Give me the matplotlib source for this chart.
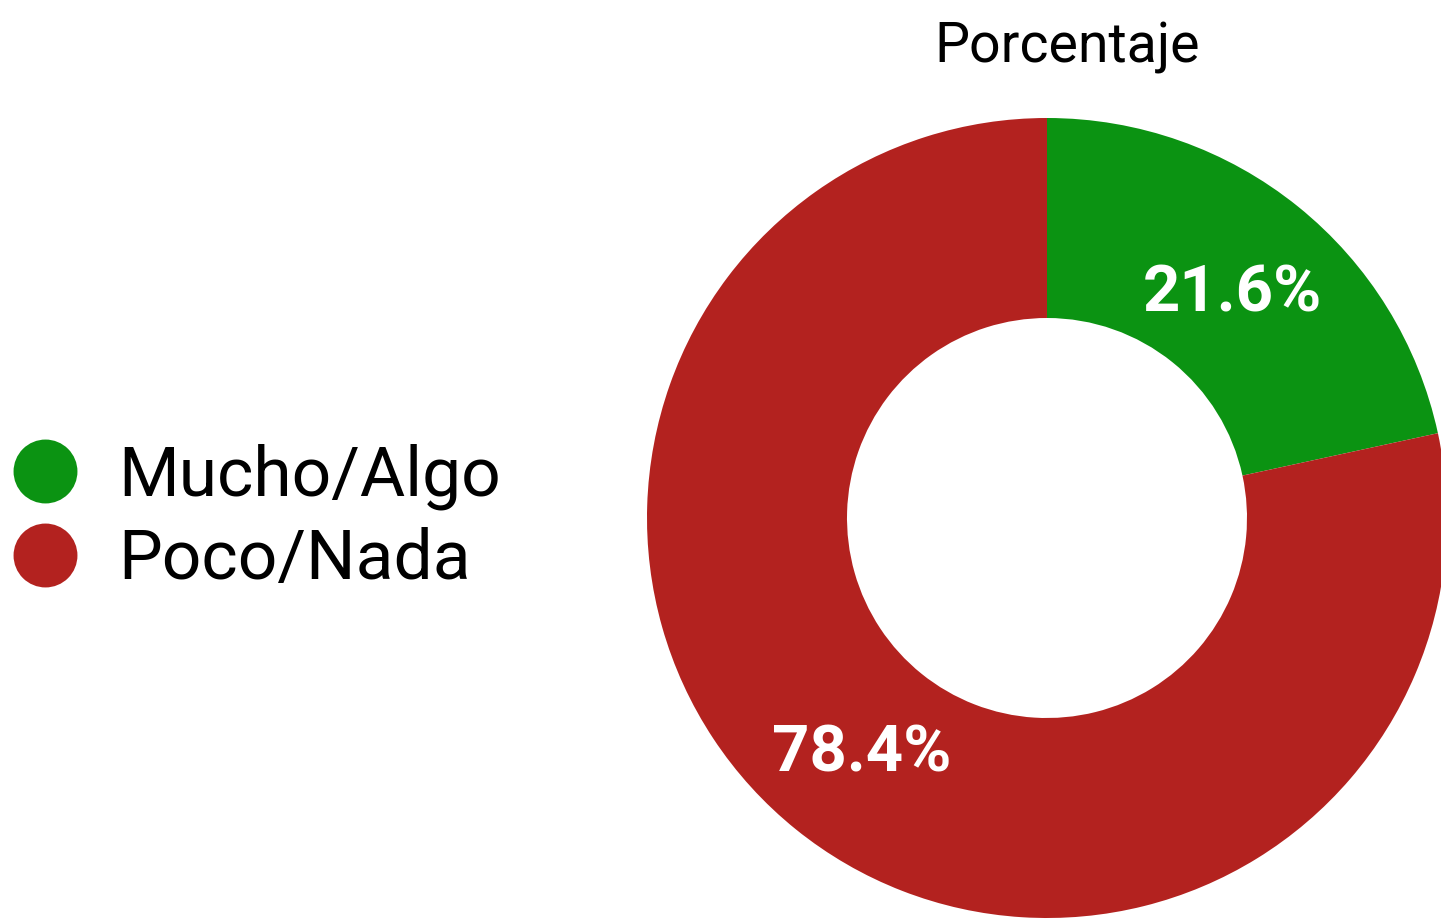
import matplotlib.pyplot as plt
from matplotlib.lines import Line2D

categories = ["Mucho/Algo", "Poco/Nada"]
values = [21.6, 78.4]
colors = ["#0b9312", "#b3221f"]
title = "Porcentaje"

plt.rcParams["font.family"] = ["Roboto", "DejaVu Sans"]

W, H = 1441, 923
fig = plt.figure(figsize=(W / 100, H / 100), dpi=100)

# donut centred at (1047, 518) px, outer radius 400 px
cx, cy, r = 1047, 518, 400
ax = fig.add_axes([(cx - r) / W, (H - cy - r) / H, 2 * r / W, 2 * r / H])
wedges, _, autotexts = ax.pie(
    values, colors=colors, startangle=90, counterclock=False,
    radius=1, wedgeprops=dict(width=0.5, linewidth=0),
    autopct="%.1f%%", pctdistance=0.74,
    textprops=dict(color="white", fontsize=47, fontweight="bold"))
for t in autotexts:
    x, y = t.get_position()
    t.set_position((x, y - 0.015))
ax.set_xlim(-1, 1)
ax.set_ylim(-1, 1)
ax.set_aspect("equal")
ax.axis("off")

fig.text(1067 / W, 1 - 47 / H, title, ha="center", va="center", fontsize=40)

handles = [Line2D([0], [0], marker="o", linestyle="none", markersize=46,
                  markerfacecolor=c, markeredgewidth=0) for c in colors]
fig.legend(handles, categories, loc="center left",
           bbox_to_anchor=(0.0, 1 - 518 / H), frameon=False, fontsize=50,
           handletextpad=0.55, labelspacing=0.25, borderaxespad=0.0,
           handlelength=1.0, borderpad=0.15)

fig.savefig("out.png", dpi=100)
